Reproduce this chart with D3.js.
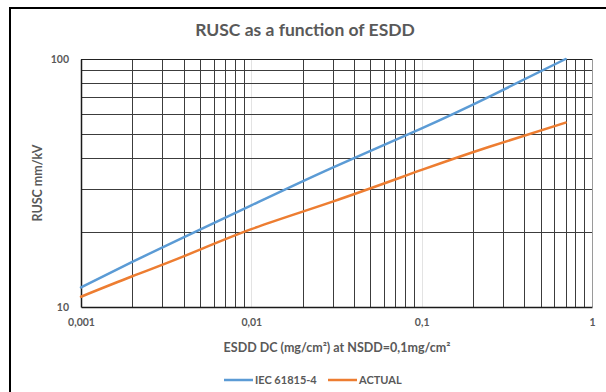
<!DOCTYPE html>
<html>
<head>
<meta charset="utf-8">
<script src="https://cdnjs.cloudflare.com/ajax/libs/d3/7.8.5/d3.min.js"></script>
<style>
  body { margin: 0; background: #fff; }
  text { font-family: Lato, "Liberation Sans", sans-serif; fill: #595959; }
</style>
</head>
<body>
<div id="chart"></div>
<script>
// values
var esdd = [0.001, 0.002, 0.004, 0.01, 0.03, 0.1, 0.25, 0.7];
var iec = [12, 15.2, 19.1, 25.7, 36.5, 52.5, 70.5, 100];
var actual = [11, 13.3, 16.0, 20.6, 26.6, 35.7, 44.3, 55.4];
var seriesNames = ["IEC 61815-4", "ACTUAL"];
var seriesColors = ["#5b9bd5", "#ed7d31"];
var xTicks = [0.001, 0.01, 0.1, 1];
var xTickLabels = ["0,001", "0,01", "0,1", "1"];
var yTicks = [10, 100];

var W = 606, H = 392;
var margin = {left: 81, right: 14, top: 59, bottom: 85},
    width = W - margin.left - margin.right,
    height = H - margin.top - margin.bottom;

var svg = d3.select("#chart").append("svg")
    .attr("width", W)
    .attr("height", H);

// chart frame (runs off the right and bottom of the picture)
svg.append("rect")
    .attr("x", 10).attr("y", 8)
    .attr("width", W + 20).attr("height", H + 20)
    .attr("fill", "none")
    .attr("stroke", "#000")
    .attr("stroke-width", 2);

var x = d3.scaleLog().domain([0.001, 1]).range([0, width]);
var y = d3.scaleLog().domain([10, 100]).range([height, 0]);

var focus = svg.append("g")
    .attr("transform", "translate(" + margin.left + "," + margin.top + ")");

function px(v) { return Math.round(v) + 0.5; }

// minor grid (2..9 in each decade)
var xMinor = [], xMajor = [0.01, 0.1];
[0.001, 0.01, 0.1].forEach(function (d) {
  for (var k = 2; k <= 9; k++) xMinor.push(d * k);
});
var yMinor = d3.range(20, 100, 10);

focus.selectAll(".vminor")
    .data(xMinor)
  .enter().append("line")
    .attr("class", "vminor")
    .attr("x1", function (d) { return px(x(d)); })
    .attr("x2", function (d) { return px(x(d)); })
    .attr("y1", 0).attr("y2", height)
    .attr("stroke", "#3c3c3c");

focus.selectAll(".vmajor")
    .data(xMajor)
  .enter().append("line")
    .attr("class", "vmajor")
    .attr("x1", function (d) { return px(x(d)); })
    .attr("x2", function (d) { return px(x(d)); })
    .attr("y1", 0).attr("y2", height)
    .attr("stroke", "#e3e3e3");

focus.selectAll(".hminor")
    .data(yMinor)
  .enter().append("line")
    .attr("class", "hminor")
    .attr("x1", 0).attr("x2", width)
    .attr("y1", function (d) { return px(y(d)); })
    .attr("y2", function (d) { return px(y(d)); })
    .attr("stroke", "#3c3c3c");

// right edge at 1 is lighter
focus.append("line")
    .attr("x1", px(x(1))).attr("x2", px(x(1)))
    .attr("y1", 0).attr("y2", height)
    .attr("stroke", "#9a9a9a");

// top line at 100
focus.append("line")
    .attr("x1", 0).attr("x2", width)
    .attr("y1", px(y(100))).attr("y2", px(y(100)))
    .attr("stroke", "#222");

// axes
var xAxis = d3.axisBottom(x)
    .tickValues(xTicks)
    .tickSize(0)
    .tickPadding(12)
    .tickFormat(function (d, i) { return xTickLabels[i]; });

var yAxis = d3.axisLeft(y)
    .tickValues(yTicks)
    .tickSize(0)
    .tickPadding(12)
    .tickFormat(d3.format("d"));

focus.append("g")
    .attr("class", "x axis")
    .attr("transform", "translate(0," + height + ")")
    .call(xAxis);

focus.append("g")
    .attr("class", "y axis")
    .call(yAxis);

focus.selectAll(".axis .domain").attr("stroke", "#1a1a1a").attr("stroke-width", 1.5);
focus.selectAll(".axis text")
    .style("font-family", "Lato, sans-serif")
    .style("font-size", "10.5px")
    .style("font-weight", "bold")
    .attr("fill", "#595959");

// series lines
var series = [iec, actual];
var line = d3.line()
    .x(function (d, i) { return x(esdd[i]); })
    .y(function (d) { return y(d); })
    .curve(d3.curveNatural);

focus.selectAll(".series")
    .data(series)
  .enter().append("path")
    .attr("class", "series")
    .attr("d", line)
    .attr("fill", "none")
    .attr("stroke", function (d, i) { return seriesColors[i]; })
    .attr("stroke-width", 2.5)
    .attr("stroke-linecap", "round");

// titles
svg.append("text")
    .attr("x", 305).attr("y", 36)
    .attr("text-anchor", "middle")
    .style("font-size", "17.5px")
    .style("font-weight", "bold")
    .text("RUSC as a function of ESDD");

svg.append("text")
    .attr("x", 337).attr("y", 352)
    .attr("text-anchor", "middle")
    .style("font-size", "12.5px")
    .style("font-weight", "bold")
    .text("ESDD DC (mg/cm²) at NSDD=0,1mg/cm²");

svg.append("text")
    .attr("transform", "translate(42," + (margin.top + height / 2) + ") rotate(-90)")
    .attr("text-anchor", "middle")
    .style("font-size", "12.5px")
    .style("font-weight", "bold")
    .text("RUSC mm/kV");

// legend
var legendX = [224, 328];
var legend = svg.selectAll(".legend")
    .data(seriesNames)
  .enter().append("g")
    .attr("class", "legend")
    .attr("transform", function (d, i) { return "translate(" + legendX[i] + ",380)"; });

legend.append("line")
    .attr("x1", 0).attr("x2", 29)
    .attr("stroke", function (d, i) { return seriesColors[i]; })
    .attr("stroke-width", 2.5);

legend.append("text")
    .attr("x", 31).attr("y", 4)
    .style("font-size", "11px")
    .style("font-weight", "bold")
    .text(function (d) { return d; });
</script>
</body>
</html>
